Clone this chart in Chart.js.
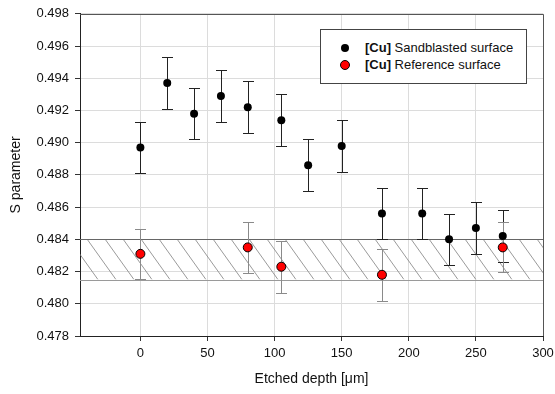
<!DOCTYPE html>
<html>
<head>
<meta charset="utf-8">
<script src="https://cdn.jsdelivr.net/npm/chart.js@4.4.0/dist/chart.umd.min.js"></script>
<style>
  body { margin: 0; background: #fff; }
  #wrap { position: relative; width: 555px; height: 394px; }
  #legend {
    position: absolute; left: 320px; top: 29px; width: 205px; height: 53px;
    border: 1px solid #444; background: #fff;
    font-family: "Liberation Sans", Arial, sans-serif; font-size: 13px; color: #111;
  }
  .row { position: absolute; left: 0; height: 16px; line-height: 16px; white-space: nowrap; }
  .mk { position: absolute; border-radius: 50%; box-sizing: border-box; }
  .row span.txt { position: absolute; left: 44px; top: 0; }
</style>
</head>
<body>
<div id="wrap">
  <canvas id="chart" width="555" height="394"></canvas>
  <div id="legend">
    <div class="row" style="top:10px;width:200px">
      <div class="mk" style="left:20px;top:4px;width:8px;height:8px;background:#000"></div>
      <span class="txt"><b>[Cu]</b> Sandblasted surface</span>
    </div>
    <div class="row" style="top:27px;width:200px">
      <div class="mk" style="left:19px;top:3px;width:10px;height:10px;background:#f00;border:1px solid #000"></div>
      <span class="txt"><b>[Cu]</b> Reference surface</span>
    </div>
  </div>
</div>
<script>
// Sandblasted surface
const sandDepth = [0, 20, 40, 60, 80, 105, 125, 150, 180, 210, 230, 250, 270];
const sandS = [0.4897, 0.4937, 0.4918, 0.4929, 0.4922, 0.4914, 0.4886, 0.4898, 0.4856, 0.4856, 0.4840, 0.4847, 0.4842];
const sandErr = [0.0016, 0.0016, 0.0016, 0.0016, 0.0016, 0.0016, 0.0016, 0.0016, 0.0016, 0.0016, 0.0016, 0.0016, 0.0016];

// Reference surface
const refDepth = [0, 80, 105, 180, 270];
const refS = [0.4831, 0.4835, 0.4823, 0.4818, 0.4835];
const refErr = [0.00155, 0.0016, 0.0016, 0.0016, 0.00155];

// hatched band of the reference
const bandLow = 0.4815;
const bandHigh = 0.4840;

const xTicks = [0, 50, 100, 150, 200, 250, 300];
const yTicks = [0.478, 0.480, 0.482, 0.484, 0.486, 0.488, 0.490, 0.492, 0.494, 0.496, 0.498];

const FONT = '"Liberation Sans", Arial, sans-serif';

// band + frame
const bandPlugin = {
    id: 'band',
    beforeDatasetsDraw(chart) {
        const ctx = chart.ctx;
        const a = chart.chartArea;
        const y = chart.scales.y;
        const top = y.getPixelForValue(bandHigh);
        const bot = y.getPixelForValue(bandLow);
        const h = bot - top;
        ctx.save();
        ctx.beginPath();
        ctx.rect(a.left, top, a.right - a.left, h);
        ctx.clip();
        ctx.strokeStyle = '#808080';
        ctx.lineWidth = 0.8;
        const dx = h / 1.4;
        for (let x = a.left - dx; x < a.right + dx; x += 18) {
            ctx.beginPath();
            ctx.moveTo(x, top);
            ctx.lineTo(x + dx, bot);
            ctx.stroke();
        }
        ctx.restore();
        ctx.save();
        ctx.lineWidth = 1;
        ctx.strokeStyle = '#666';
        ctx.beginPath();
        ctx.moveTo(a.left, Math.round(top) + 0.5);
        ctx.lineTo(a.right, Math.round(top) + 0.5);
        ctx.stroke();
        ctx.strokeStyle = '#9a9a9a';
        ctx.beginPath();
        ctx.moveTo(a.left, Math.round(bot) + 0.5);
        ctx.lineTo(a.right, Math.round(bot) + 0.5);
        ctx.stroke();
        // top and right frame
        ctx.strokeStyle = '#555';
        ctx.beginPath();
        ctx.moveTo(a.left, Math.round(a.top) + 0.5);
        ctx.lineTo(Math.round(a.right) + 0.5, Math.round(a.top) + 0.5);
        ctx.lineTo(Math.round(a.right) + 0.5, a.bottom);
        ctx.stroke();
        ctx.restore();
    }
};

// error bars
const errorPlugin = {
    id: 'errbars',
    beforeDatasetsDraw(chart) {
        const ctx = chart.ctx;
        const y = chart.scales.y;
        chart.data.datasets.forEach((ds, i) => {
            const meta = chart.getDatasetMeta(i);
            ctx.save();
            ctx.strokeStyle = ds.errColor;
            ctx.lineWidth = 1;
            meta.data.forEach((pt, j) => {
                const v = ds.data[j].y;
                const e = ds.errors[j];
                const x = Math.round(pt.x) + 0.5;
                const y1 = Math.round(y.getPixelForValue(v + e)) + 0.5;
                const y2 = Math.round(y.getPixelForValue(v - e)) + 0.5;
                ctx.beginPath();
                ctx.moveTo(x, y1);
                ctx.lineTo(x, y2);
                ctx.moveTo(x - 5.5, y1);
                ctx.lineTo(x + 5.5, y1);
                ctx.moveTo(x - 5.5, y2);
                ctx.lineTo(x + 5.5, y2);
                ctx.stroke();
            });
            ctx.restore();
        });
    }
};

const ctx = document.getElementById('chart').getContext('2d');
const chart = new Chart(ctx, {
    type: 'scatter',
    data: {
        datasets: [{
            label: '[Cu] Sandblasted surface',
            data: sandDepth.map((d, i) => ({ x: d, y: sandS[i] })),
            errors: sandErr,
            errColor: '#222',
            backgroundColor: '#000',
            borderColor: '#000',
            borderWidth: 0,
            pointRadius: 4,
            order: 1
        }, {
            label: '[Cu] Reference surface',
            data: refDepth.map((d, i) => ({ x: d, y: refS[i] })),
            errors: refErr,
            errColor: '#8a8a8a',
            backgroundColor: '#ff0000',
            borderColor: '#000',
            borderWidth: 1,
            pointRadius: 4.5,
            order: 0
        }]
    },
    plugins: [bandPlugin, errorPlugin],
    options: {
        responsive: false,
        animation: false,
        devicePixelRatio: 1,
        events: [],
        layout: { padding: { top: 13, right: 12, left: 0, bottom: 0 } },
        plugins: {
            legend: { display: false },
            tooltip: { enabled: false }
        },
        scales: {
            x: {
                type: 'linear',
                min: -45,
                max: 300,
                afterBuildTicks: s => { s.ticks = xTicks.map(v => ({ value: v })); },
                afterFit: s => { s.height = 58; s.paddingLeft = 0; s.paddingRight = 0; },
                grid: { color: '#dcdcdc', tickColor: '#333', tickLength: 5 },
                border: { color: '#222' },
                ticks: { color: '#111', font: { family: FONT, size: 13 }, padding: 5, maxRotation: 0 },
                title: {
                    display: true, text: 'Etched depth [\u03bcm]', color: '#111',
                    font: { family: FONT, size: 14 }, padding: { top: 0, bottom: 6 }
                }
            },
            y: {
                type: 'linear',
                min: 0.478,
                max: 0.498,
                afterBuildTicks: s => { s.ticks = yTicks.map(v => ({ value: v })); },
                afterFit: s => { s.width = 80; },
                grid: { color: '#dcdcdc', tickColor: '#333', tickLength: 5 },
                border: { color: '#222' },
                ticks: {
                    color: '#111', font: { family: FONT, size: 13 }, padding: 6,
                    callback: v => v.toFixed(3)
                },
                title: {
                    display: true, text: 'S parameter', color: '#111',
                    font: { family: FONT, size: 14 }, padding: { top: 8, bottom: 0 }
                }
            }
        }
    }
});
</script>
</body>
</html>
